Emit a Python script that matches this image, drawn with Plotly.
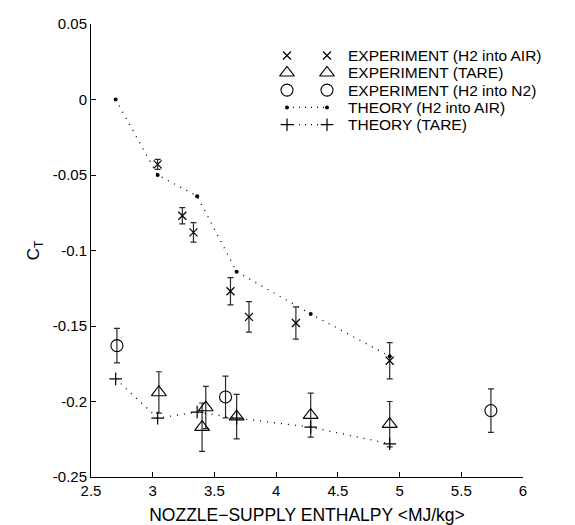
import plotly.graph_objects as go

# Nozzle-supply enthalpy (MJ/kg) and thrust coefficient C_T
exp_air_h = [3.04, 3.24, 3.33, 3.63, 3.78, 4.16, 4.92]
exp_air_ct = [-0.043, -0.077, -0.088, -0.127, -0.144, -0.148, -0.173]
exp_air_err = [0.0033, 0.0054, 0.0064, 0.009, 0.0101, 0.0107, 0.012]

exp_tare_h = [3.05, 3.40, 3.43, 3.68, 4.28, 4.92]
exp_tare_ct = [-0.194, -0.217, -0.204, -0.210, -0.209, -0.215]
exp_tare_err = [0.0137, 0.016, 0.014, 0.0147, 0.0146, 0.015]

exp_n2_h = [2.71, 3.59, 5.74]
exp_n2_ct = [-0.163, -0.197, -0.206]
exp_n2_err = [0.0114, 0.0138, 0.0144]

th_air_h = [2.70, 3.04, 3.36, 3.68, 4.28, 4.92]
th_air_ct = [0.0, -0.050, -0.064, -0.114, -0.142, -0.170]

th_tare_h = [2.70, 3.04, 3.36, 3.68, 4.28, 4.92]
th_tare_ct = [-0.185, -0.211, -0.207, -0.211, -0.217, -0.228]

x_ticks = [2.5, 3, 3.5, 4, 4.5, 5, 5.5, 6]
x_tick_labels = ["2.5", "3", "3.5", "4", "4.5", "5", "5.5", "6"]
y_ticks = [0.05, 0, -0.05, -0.1, -0.15, -0.2, -0.25]
y_tick_labels = ["0.05", "0", "-0.05", "-0.1", "-0.15", "-0.2", "-0.25"]

FONT = "Liberation Sans, Arial, Helvetica, sans-serif"
ERR_COLOR = "#2a2a2a"
DOTTED = "1px,6px"

W, H = 575, 525
M_L, M_R, M_T, M_B = 91, 52, 24, 48
PLOT_W = W - M_L - M_R
PLOT_H = H - M_T - M_B


def err(vals):
    return dict(type="data", array=vals, visible=True, color=ERR_COLOR,
                thickness=1.2, width=3)


# marker / line styles per series, shared by plot and key
styles = [
    dict(name="EXPERIMENT (H2 into AIR)", line=None,
         marker=dict(symbol="x-thin", size=8, line=dict(width=1.2, color="black"))),
    dict(name="EXPERIMENT (TARE)", line=None,
         marker=dict(symbol="triangle-up-open", size=13, color="black",
                     line=dict(width=1.1))),
    dict(name="EXPERIMENT (H2 into N2)", line=None,
         marker=dict(symbol="circle-open", size=12, color="black",
                     line=dict(width=1.1))),
    dict(name="THEORY (H2 into AIR)",
         line=dict(color="black", width=1.3, dash=DOTTED),
         marker=dict(symbol="circle", size=4, color="black")),
    dict(name="THEORY (TARE)",
         line=dict(color="black", width=1.3, dash=DOTTED),
         marker=dict(symbol="cross-thin", size=9, line=dict(width=1.2, color="black"))),
]

series = [
    (exp_air_h, exp_air_ct, exp_air_err),
    (exp_tare_h, exp_tare_ct, exp_tare_err),
    (exp_n2_h, exp_n2_ct, exp_n2_err),
    (th_air_h, th_air_ct, None),
    (th_tare_h, th_tare_ct, None),
]

fig = go.Figure()

for st, (xs, ys, es) in zip(styles, series):
    kw = dict(x=xs, y=ys, name=st["name"], marker=st["marker"], showlegend=False)
    if st["line"] is None:
        kw["mode"] = "markers"
    else:
        kw["mode"] = "lines+markers"
        kw["line"] = st["line"]
    if es is not None:
        kw["error_y"] = err(es)
    fig.add_trace(go.Scatter(**kw))

# Key in the upper right: two symbols per row joined by the series line,
# placed on a pixel-scaled overlay axis
KEY_X0, KEY_X1, KEY_TXT = 196, 236, 256
KEY_TOP, KEY_STEP = 55.5, 17.3
annotations = []
for i, st in enumerate(styles):
    y_px = PLOT_H - (KEY_TOP + i * KEY_STEP - M_T)
    kw = dict(x=[KEY_X0, KEY_X1], y=[y_px, y_px], xaxis="x2", yaxis="y2",
              marker=st["marker"], showlegend=False, hoverinfo="skip")
    if st["line"] is None:
        kw["mode"] = "markers"
    else:
        kw["mode"] = "lines+markers"
        kw["line"] = dict(color="black", width=1.3, dash="1px,5px")
    fig.add_trace(go.Scatter(**kw))
    annotations.append(dict(x=KEY_TXT, y=y_px, xref="x2", yref="y2",
                            text=st["name"], showarrow=False, borderpad=0,
                            xanchor="left", yanchor="middle",
                            font=dict(family=FONT, size=15.5, color="black")))

axis_common = dict(showline=True, linecolor="black", linewidth=1,
                   ticks="inside", ticklen=5, tickcolor="black",
                   showgrid=False, zeroline=False, mirror=False,
                   automargin=False,
                   tickfont=dict(family=FONT, size=15, color="black"))

fig.update_layout(
    width=W, height=H,
    margin=dict(l=M_L, r=M_R, t=M_T, b=M_B),
    paper_bgcolor="white", plot_bgcolor="white",
    font=dict(family=FONT, size=15, color="black"),
    xaxis=dict(range=[2.5, 6], tickvals=x_ticks, ticktext=x_tick_labels,
               title=dict(text="NOZZLE\u2212SUPPLY ENTHALPY &lt;MJ/kg&gt;",
                          font=dict(family=FONT, size=17.5), standoff=11),
               **axis_common),
    yaxis=dict(range=[-0.25, 0.05], tickvals=y_ticks, ticktext=y_tick_labels,
               title=dict(text="C<sub>T</sub>", font=dict(family=FONT, size=17),
                          standoff=8),
               **axis_common),
    xaxis2=dict(overlaying="x", range=[0, PLOT_W], visible=False, fixedrange=True),
    yaxis2=dict(overlaying="y", range=[0, PLOT_H], visible=False, fixedrange=True),
    annotations=annotations,
    showlegend=False,
)

fig.write_html("out.html")
